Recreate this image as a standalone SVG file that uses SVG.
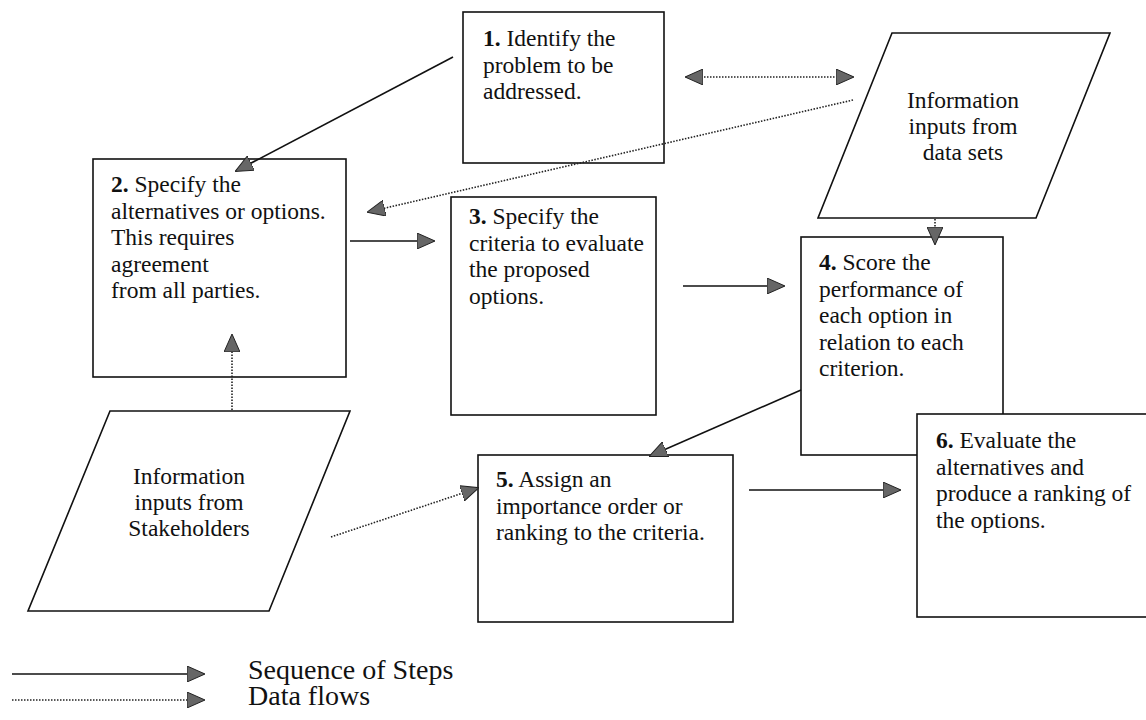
<svg xmlns="http://www.w3.org/2000/svg" width="1146" height="720" viewBox="0 0 1146 720">
<style>
.box{fill:#fff;stroke:#111;stroke-width:1.6}
text{font-family:'Liberation Serif','DejaVu Serif',serif;fill:#111}
.t{font-size:23.5px}
.tc{text-anchor:middle}
.b{font-weight:bold}
.solid{fill:none;stroke:#111;stroke-width:1.6}
.dot{fill:none;stroke:#222;stroke-width:1.6;stroke-dasharray:1.5 1.5}
.leg{font-size:28px}
</style>
<defs>
<marker id="ah" viewBox="0 0 18 16" refX="17" refY="8" markerWidth="18" markerHeight="16" orient="auto-start-reverse" markerUnits="userSpaceOnUse">
<path d="M0,0 L18,8 L0,16 Z" fill="#666" stroke="#222" stroke-width="1"/>
</marker>
</defs>
<rect width="1146" height="720" fill="#fff"/>

<g id="step1" font-family="Liberation Serif, serif">
<rect class="box" x="463" y="12" width="201" height="151"/>
<text class="t" x="483" y="46"><tspan class="b">1.</tspan> Identify the</text>
<text class="t" x="483" y="72.5">problem to be</text>
<text class="t" x="483" y="99">addressed.</text>
</g>

<g id="datasets" font-family="Liberation Serif, serif">
<polygon class="box" points="892,33 1110,33 1036,218 818,218"/>
<text class="t tc" x="963" y="108">Information</text>
<text class="t tc" x="963" y="134">inputs from</text>
<text class="t tc" x="963" y="160">data sets</text>
</g>

<g id="step2" font-family="Liberation Serif, serif">
<rect class="box" x="93" y="159" width="253" height="218"/>
<text class="t" x="111" y="192"><tspan class="b">2.</tspan> Specify the</text>
<text class="t" x="111" y="218.5">alternatives or options.</text>
<text class="t" x="111" y="245">This requires</text>
<text class="t" x="111" y="271.5">agreement</text>
<text class="t" x="111" y="298">from all parties.</text>
</g>

<g id="step3" font-family="Liberation Serif, serif">
<rect class="box" x="451" y="197" width="205" height="218"/>
<text class="t" x="469" y="224"><tspan class="b">3.</tspan> Specify the</text>
<text class="t" x="469" y="250.5">criteria to evaluate</text>
<text class="t" x="469" y="277">the proposed</text>
<text class="t" x="469" y="303.5">options.</text>
</g>

<g id="step4" font-family="Liberation Serif, serif">
<rect class="box" x="801" y="237" width="202" height="218"/>
<text class="t" x="819" y="270"><tspan class="b">4.</tspan> Score the</text>
<text class="t" x="819" y="296.5">performance of</text>
<text class="t" x="819" y="323">each option in</text>
<text class="t" x="819" y="349.5">relation to each</text>
<text class="t" x="819" y="376">criterion.</text>
</g>

<g id="step6" font-family="Liberation Serif, serif">
<rect class="box" x="917" y="414" width="240" height="203"/>
<text class="t" x="936" y="448"><tspan class="b">6.</tspan> Evaluate the</text>
<text class="t" x="936" y="474.5">alternatives and</text>
<text class="t" x="936" y="501">produce a ranking of</text>
<text class="t" x="936" y="527.5">the options.</text>
</g>

<g id="stakeholders" font-family="Liberation Serif, serif">
<polygon class="box" points="110,411 350,411 269,611 28,611"/>
<text class="t tc" x="189" y="484">Information</text>
<text class="t tc" x="189" y="510">inputs from</text>
<text class="t tc" x="189" y="536">Stakeholders</text>
</g>

<g id="step5" font-family="Liberation Serif, serif">
<rect class="box" x="478" y="455" width="255" height="167"/>
<text class="t" x="496" y="487"><tspan class="b">5.</tspan> Assign an</text>
<text class="t" x="496" y="513.5">importance order or</text>
<text class="t" x="496" y="540">ranking to the criteria.</text>
</g>

<g id="connectors">
<line class="solid" x1="453" y1="57" x2="236" y2="171" marker-end="url(#ah)"/>
<line class="dot" x1="686" y1="77" x2="853" y2="77" marker-start="url(#ah)" marker-end="url(#ah)"/>
<line class="dot" x1="853" y1="100" x2="368" y2="212" marker-end="url(#ah)"/>
<line class="solid" x1="350" y1="241" x2="434" y2="241" marker-end="url(#ah)"/>
<line class="solid" x1="683" y1="286" x2="784" y2="286" marker-end="url(#ah)"/>
<line class="dot" x1="935" y1="219" x2="935" y2="244" marker-end="url(#ah)"/>
<line class="dot" x1="232" y1="410" x2="232" y2="335" marker-end="url(#ah)"/>
<line class="solid" x1="801" y1="390" x2="650" y2="456" marker-end="url(#ah)"/>
<line class="dot" x1="331" y1="537" x2="478" y2="488" marker-end="url(#ah)"/>
<line class="solid" x1="749" y1="490" x2="900" y2="490" marker-end="url(#ah)"/>
</g>

<g id="legend" font-family="Liberation Serif, serif">
<line class="solid" x1="12" y1="674" x2="204" y2="674" marker-end="url(#ah)"/>
<line class="dot" x1="12" y1="700" x2="204" y2="700" marker-end="url(#ah)"/>
<text class="leg" x="248" y="679">Sequence of Steps</text>
<text class="leg" x="248" y="705">Data flows</text>
</g>
</svg>
